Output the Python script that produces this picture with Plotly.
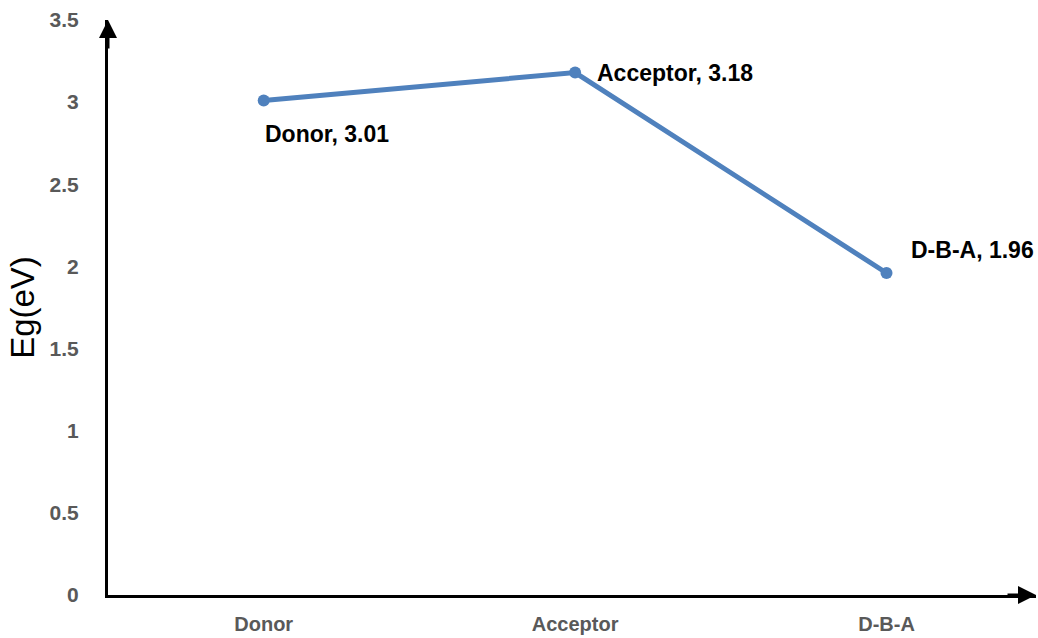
import plotly.graph_objects as go

categories = ["Donor", "Acceptor", "D-B-A"]
eg_values = [3.01, 3.18, 1.96]
y_tick_vals = [0, 0.5, 1, 1.5, 2, 2.5, 3, 3.5]
y_tick_text = ["0", "0.5", "1", "1.5", "2", "2.5", "3", "3.5"]

label_style = [
    dict(xshift=-1, yshift=-33),
    dict(xshift=20, yshift=0),
    dict(xshift=22, yshift=23),
]

fig = go.Figure()
fig.add_trace(go.Scatter(
    x=list(range(len(categories))), y=eg_values, mode="lines+markers",
    line=dict(color="#4F81BD", width=5),
    marker=dict(color="#4F81BD", size=12),
    showlegend=False, cliponaxis=False,
))

annotations = []
for i, (c, v) in enumerate(zip(categories, eg_values)):
    annotations.append(dict(
        x=i, y=v, xref="x", yref="y", text=f"<b>{c}, {v:.2f}</b>", showarrow=False,
        xanchor="left", yanchor="middle",
        font=dict(family="Liberation Sans, Arial", size=23, color="black"),
        **label_style[i],
    ))

# axis arrows
annotations.append(dict(x=1.0, y=0, xref="paper", yref="y", ax=-30, ay=0,
                        text="", showarrow=True,
                        arrowhead=2, arrowsize=1.2, arrowwidth=3, arrowcolor="black"))
annotations.append(dict(x=0, y=1.0, xref="paper", yref="paper", ax=0, ay=30,
                        text="", showarrow=True,
                        arrowhead=2, arrowsize=1.2, arrowwidth=3, arrowcolor="black"))

fig.update_layout(
    width=1038, height=638,
    margin=dict(l=108, r=2, t=20, b=43),
    paper_bgcolor="white", plot_bgcolor="white",
    font=dict(family="Liberation Sans, Arial"),
    annotations=annotations,
    xaxis=dict(
        range=[-0.5, 2.48], tickmode="array", tickvals=list(range(len(categories))),
        ticktext=[f"<b>{c}</b>" for c in categories],
        tickfont=dict(size=20, color="#595959"),
        showline=True, linecolor="black", linewidth=3, showgrid=False, zeroline=False,
        ticks="", ticklabelstandoff=9,
    ),
    yaxis=dict(
        range=[0, 3.5], tickmode="array", tickvals=y_tick_vals,
        ticktext=[f"<b>{t}</b>" for t in y_tick_text],
        tickfont=dict(size=21, color="#595959"),
        showline=True, linecolor="black", linewidth=3, showgrid=False, zeroline=False,
        ticks="", ticklabelstandoff=22,
        title=dict(text="Eg(eV)", font=dict(size=33, color="black"), standoff=6),
    ),
)

fig.write_html("out.html")
